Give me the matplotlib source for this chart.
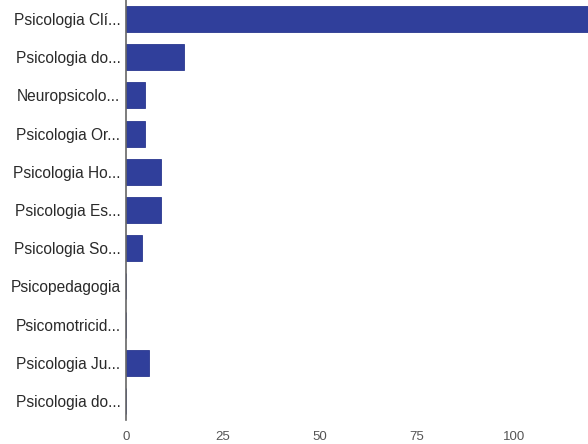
import matplotlib
matplotlib.use("Agg")
import matplotlib.pyplot as plt

categories = [
    "Psicologia Clí...",
    "Psicologia do...",
    "Neuropsicolo...",
    "Psicologia Or...",
    "Psicologia Ho...",
    "Psicologia Es...",
    "Psicologia So...",
    "Psicopedagogia",
    "Psicomotricid...",
    "Psicologia Ju...",
    "Psicologia do...",
]
values = [119, 15, 5, 5, 9, 9, 4, 0, 0, 6, 0]
xticks = [0, 25, 50, 75, 100]

plt.rcParams['font.family'] = ['Liberation Sans', 'DejaVu Sans']

fig = plt.figure(figsize=(5.88, 4.44), dpi=100)
ax = fig.add_axes([126 / 588, 24 / 444, 1 - 126 / 588, 1 - 24 / 444])

pos = list(range(len(categories)))
ax.barh(pos, values, height=0.68, color="#303f9b", edgecolor="#2a3890", linewidth=0.6)
ax.set_ylim(len(categories) - 0.5, -0.5)
ax.set_xlim(0, 119)

ax.set_yticks(pos)
ax.set_yticklabels(categories, fontsize=11.2, color="#2a2a2a")
ax.set_xticks(xticks)
ax.set_xticklabels([str(t) for t in xticks], fontsize=9.5, color="#555555")
ax.tick_params(axis="both", length=0)
ax.tick_params(axis="y", pad=4)
ax.tick_params(axis="x", pad=8)

for side in ["top", "right", "bottom"]:
    ax.spines[side].set_visible(False)
ax.spines["left"].set_color("#666666")
ax.spines["left"].set_linewidth(1.2)

fig.savefig("out.png", dpi=100)
